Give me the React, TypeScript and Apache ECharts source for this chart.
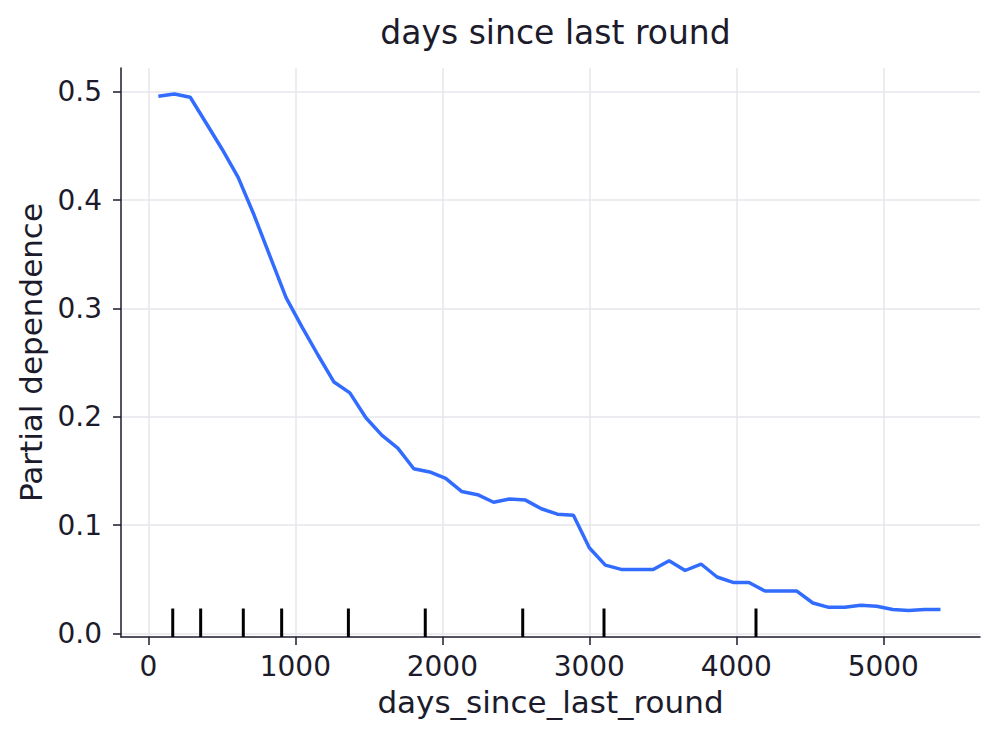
import React, { useEffect, useRef } from "react";
import * as echarts from "echarts";

const titleText = "days since last round";
const xName = "days_since_last_round";
const yName = "Partial dependence";

const xValues = [
  68, 177, 285, 394, 502, 611, 720, 828, 937, 1045,
  1154, 1263, 1371, 1480, 1588, 1697, 1806, 1914, 2023, 2131,
  2240, 2349, 2457, 2566, 2674, 2783, 2892, 3000, 3109, 3217,
  3326, 3435, 3543, 3652, 3760, 3869, 3978, 4086, 4195, 4303,
  4412, 4521, 4629, 4738, 4846, 4955, 5064, 5172, 5281, 5389,
];

const pdValues = [
  0.496, 0.498, 0.495, 0.471, 0.447, 0.421, 0.386, 0.348, 0.310, 0.283,
  0.257, 0.232, 0.222, 0.199, 0.183, 0.171, 0.152, 0.149, 0.143, 0.131,
  0.128, 0.121, 0.124, 0.123, 0.115, 0.110, 0.109, 0.079, 0.063, 0.059,
  0.059, 0.059, 0.067, 0.058, 0.064, 0.052, 0.047, 0.047, 0.039, 0.039,
  0.039, 0.028, 0.024, 0.024, 0.026, 0.025, 0.022, 0.021, 0.022, 0.022,
];

const rugValues = [166, 356, 646, 907, 1361, 1884, 2547, 3100, 4134];

const xTicks = [0, 1000, 2000, 3000, 4000, 5000];
const yTicks = [0, 0.1, 0.2, 0.3, 0.4, 0.5];

const X_MIN = -186;
const X_MAX = 5658;
const Y_MIN = -0.0034;
const Y_MAX = 0.522;
const RUG_TOP = 0.0229;

const TEXT = "#1b1b2b";
const FONT = "DejaVu Sans";

export default function App() {
  const ref = useRef<HTMLDivElement>(null);

  useEffect(() => {
    if (!ref.current) return;
    const chart = echarts.init(ref.current, undefined, { renderer: "svg" });
    const option: any = {
      animation: false,
      backgroundColor: "#ffffff",
      title: {
        text: titleText,
        left: 550.5,
        textAlign: "center",
        top: 11,
        textStyle: { fontFamily: FONT, fontSize: 33, fontWeight: "normal", color: TEXT },
      },
      grid: { left: 121, right: 17, top: 68, bottom: 105, containLabel: false },
      xAxis: {
        type: "value",
        min: X_MIN,
        max: X_MAX,
        name: xName,
        nameLocation: "middle",
        nameGap: 49,
        nameTextStyle: { fontFamily: FONT, fontSize: 31, color: TEXT },
        axisLine: { onZero: false, lineStyle: { color: TEXT, width: 1.5 } },
        axisTick: { show: true, length: 8, customValues: xTicks, lineStyle: { color: TEXT, width: 1.5 } },
        axisLabel: {
          customValues: xTicks,
          margin: 15,
          fontFamily: FONT,
          fontSize: 28,
          color: TEXT,
          formatter: (v: number) => String(Math.round(v)),
        },
        splitLine: { show: true, lineStyle: { color: "#e6e6ec", width: 1.5 } },
      },
      yAxis: {
        type: "value",
        min: Y_MIN,
        max: Y_MAX,
        name: yName,
        nameLocation: "middle",
        nameRotate: 90,
        nameGap: 73,
        nameTextStyle: { fontFamily: FONT, fontSize: 31, color: TEXT },
        axisLine: { show: true, onZero: false, lineStyle: { color: TEXT, width: 1.5 } },
        axisTick: { show: true, length: 8, customValues: yTicks, lineStyle: { color: TEXT, width: 1.5 } },
        axisLabel: {
          customValues: yTicks,
          margin: 19,
          fontFamily: FONT,
          fontSize: 28,
          color: TEXT,
          formatter: (v: number) => v.toFixed(1),
        },
        splitLine: { show: true, lineStyle: { color: "#e6e6ec", width: 1.5 } },
      },
      series: [
        {
          type: "custom",
          data: rugValues.map((v) => [v]),
          z: 3,
          renderItem: (_params: any, api: any) => {
            const x = api.value(0);
            const p0 = api.coord([x, Y_MIN]);
            const p1 = api.coord([x, RUG_TOP]);
            return {
              type: "line",
              shape: { x1: p0[0], y1: p0[1], x2: p1[0], y2: p1[1] },
              style: { stroke: "#000000", lineWidth: 3 },
            };
          },
        },
        {
          type: "line",
          data: xValues.map((x, i) => [x, pdValues[i]]),
          showSymbol: false,
          symbol: "none",
          z: 4,
          lineStyle: { color: "#326cff", width: 3.5 },
        },
      ],
    };
    chart.setOption(option);
    return () => chart.dispose();
  }, []);

  return (
    <div
      ref={ref}
      style={{ position: "fixed", left: 0, top: 0, width: 997, height: 742 }}
    />
  );
}
